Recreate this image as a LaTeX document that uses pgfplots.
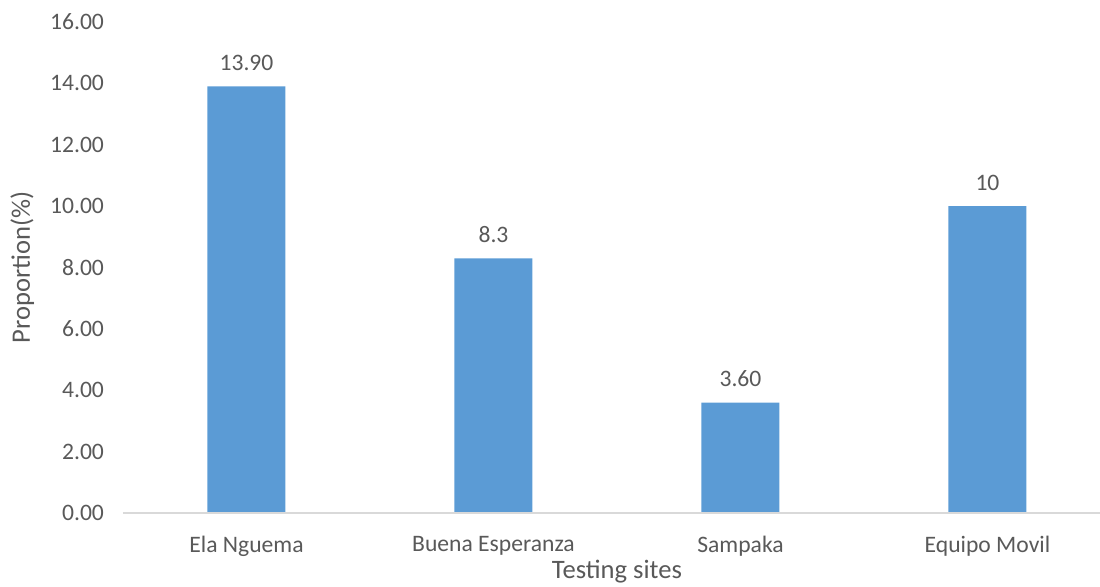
\documentclass[border=0pt]{standalone}
\usepackage{pgfplots}
\pgfplotsset{compat=1.18}
\usepackage{fontspec}
\setmainfont{Carlito}
\definecolor{barblue}{HTML}{5B9BD5}
\definecolor{txtgray}{HTML}{595959}
\definecolor{axgray}{HTML}{D9D9D9}
\begin{document}
\begin{tikzpicture}
\begin{axis}[
    name=ax,
    scale only axis,
    width=494pt, height=245.5pt,
    xmin=-0.5, xmax=3.5,
    ymin=0, ymax=16,
    ytick={0,2,...,16},
    xtick=data,
    xticklabels={Ela Nguema, Buena Esperanza, Sampaka, Equipo Movil},
    major tick length=0pt,
    axis line style={draw=none},
    axis x line*=bottom,
    axis y line*=left,
    tick label style={font=\fontsize{11.8}{14}\selectfont, text=txtgray},
    yticklabel style={/pgf/number format/fixed, /pgf/number format/fixed zerofill,
        /pgf/number format/precision=2, /pgf/number format/assume math mode=true, xshift=-6pt},
    xticklabel style={yshift=-8pt},
    xlabel={Testing sites},
    ylabel={Proportion(\%)},
    label style={font=\fontsize{13.3}{15}\selectfont, text=txtgray},
    xlabel style={at={(axis description cs:0.5,0)}, anchor=center, yshift=-29.5pt},
    ylabel style={at={(axis description cs:-0.102,0.5)}, anchor=center},
    ybar, bar width=39pt,
    point meta=explicit symbolic,
    nodes near coords,
    nodes near coords style={font=\fontsize{11.8}{14}\selectfont, text=txtgray, anchor=south, inner sep=0pt, yshift=7.75pt},
    clip=false,
]
\addplot[fill=barblue, draw=none] coordinates {(0,13.9)[13.90] (1,8.3)[8.3] (2,3.6)[3.60] (3,10)[10]};
\draw[axgray, line width=1pt] (axis cs:-0.5,0) -- (axis cs:3.5,0);
\end{axis}
\pgfresetboundingbox
\path[use as bounding box] (ax.south west) ++(-61.5pt,-36.5pt) rectangle ++(550pt,293pt);
\end{tikzpicture}
\end{document}
